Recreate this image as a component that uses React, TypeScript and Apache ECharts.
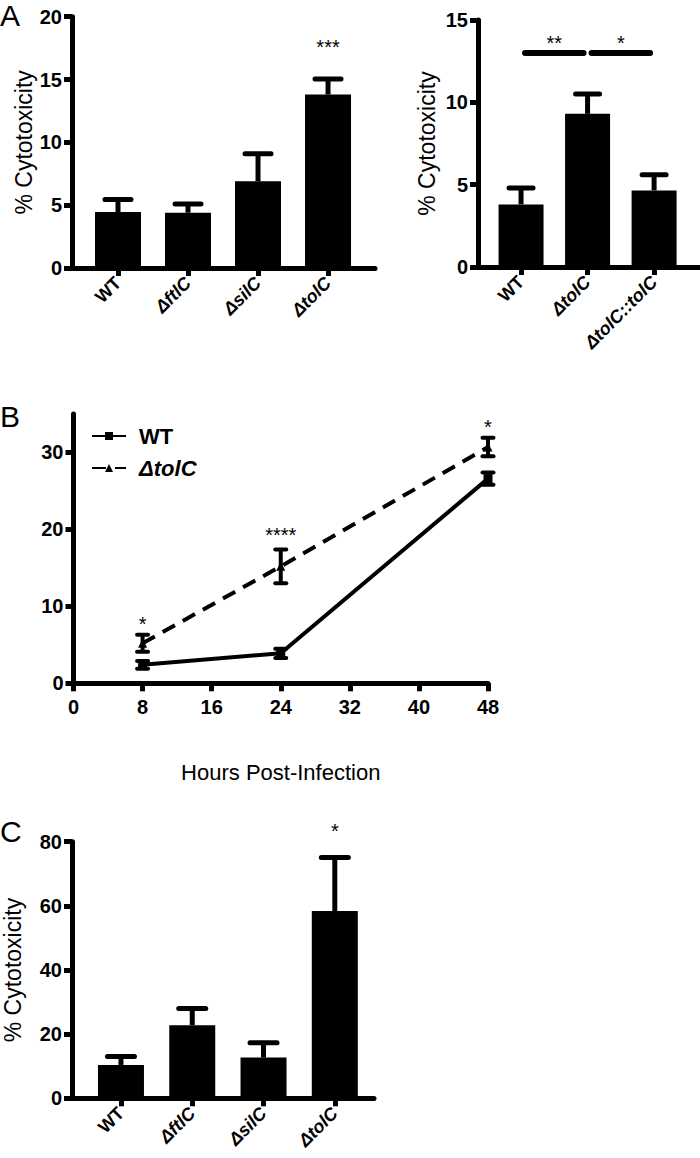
import React, { useEffect, useRef } from "react";
import * as echarts from "echarts";

// ---------- data ----------
const strainsA1 = ["WT", "ΔftlC", "ΔsilC", "ΔtolC"];
const meanA1 = [4.45, 4.4, 6.9, 13.8];
const semA1 = [1.0, 0.7, 2.2, 1.25];
const starsA1 = [{ x: 3, y: 18.0, t: "***" }];

const strainsA2 = ["WT", "ΔtolC", "ΔtolC::tolC"];
const meanA2 = [3.8, 9.3, 4.65];
const semA2 = [1.0, 1.2, 0.95];
const sigA2 = [
  { from: 0, to: 1, y: 13.0, t: "**", ty: 13.9 },
  { from: 1, to: 2, y: 13.0, t: "*", ty: 13.9 },
];

const hoursB = [8, 24, 48];
const wtB = [2.4, 3.9, 26.6];
const wtErrB = [0.5, 0.6, 0.8];
const tolcB = [5.2, 15.2, 30.7];
const tolcErrB = [1.1, 2.2, 1.2];
const starsB = [
  { x: 8, y: 8.35, t: "*" },
  { x: 24, y: 19.9, t: "****" },
  { x: 48, y: 33.9, t: "*" },
];
const ticksBY = [0, 10, 20, 30];

const strainsC = ["WT", "ΔftlC", "ΔsilC", "ΔtolC"];
const meanC = [10.4, 22.8, 12.7, 58.4];
const semC = [2.6, 5.2, 4.6, 16.7];
const starsC = [{ x: 3, y: 84.8, t: "*" }];

// ---------- styles ----------
const FONT = "'Liberation Sans', Arial, sans-serif";
const BOLD = "'Liberation Sans', Arial, sans-serif";
const AX = { color: "#000", width: 5 };

function barXAxis(gridIndex: number, min: number, max: number, names: string[]) {
  const vals = names.map((_, i) => i);
  return {
    type: "value",
    gridIndex,
    min,
    max,
    axisLine: { show: true, onZero: false, lineStyle: AX },
    axisTick: { show: true, customValues: vals, length: 8, lineStyle: AX },
    axisLabel: {
      show: true,
      customValues: vals,
      rotate: 45,
      margin: 12,
      formatter: (v: number) => {
        const n = names[Math.round(v)];
        return n === "WT" ? `{u|${n}}` : `{i|${n}}`;
      },
      rich: {
        u: { fontFamily: BOLD, fontWeight: "bold", fontSize: 18, color: "#000" },
        i: { fontFamily: BOLD, fontWeight: "bold", fontStyle: "italic", fontSize: 18, color: "#000" },
      },
    },
    splitLine: { show: false },
  };
}

function yAxis(gridIndex: number, max: number, interval: number, name: string, nameGap: number, custom?: number[]) {
  return {
    type: "value",
    gridIndex,
    min: 0,
    max,
    interval,
    name,
    nameLocation: "middle",
    nameGap,
    nameRotate: 90,
    nameTextStyle: { fontFamily: FONT, fontSize: 23, color: "#000" },
    axisLine: { show: true, onZero: false, lineStyle: AX },
    axisTick: { show: true, length: 8, lineStyle: AX, ...(custom ? { customValues: custom } : {}) },
    axisLabel: {
      margin: 10,
      fontFamily: BOLD,
      fontWeight: "bold",
      fontSize: 20,
      color: "#000",
      ...(custom ? { customValues: custom } : {}),
    },
    splitLine: { show: false },
  };
}

function errSeries(idx: number, xs: number[], means: number[], errs: number[], capW: number, lw: number, two: boolean) {
  return {
    type: "custom",
    xAxisIndex: idx,
    yAxisIndex: idx,
    clip: false,
    z: 5,
    encode: { x: 0, y: 1 },
    data: xs.map((x, i) => [x, means[i], errs[i]]),
    renderItem: (params: any, api: any) => {
      const x = api.value(0);
      const m = api.value(1);
      const e = api.value(2);
      const top = api.coord([x, m + e]);
      const bot = api.coord([x, two ? m - e : m]);
      const st = { stroke: "#000", lineWidth: lw, lineCap: "round" };
      const children: any[] = [
        { type: "line", shape: { x1: top[0], y1: top[1], x2: bot[0], y2: bot[1] }, style: { stroke: "#000", lineWidth: lw } },
        { type: "line", shape: { x1: top[0] - capW / 2, y1: top[1], x2: top[0] + capW / 2, y2: top[1] }, style: st },
      ];
      if (two) {
        children.push({ type: "line", shape: { x1: bot[0] - capW / 2, y1: bot[1], x2: bot[0] + capW / 2, y2: bot[1] }, style: st });
      }
      return { type: "group", children };
    },
  };
}

function starSeries(idx: number, stars: { x: number; y: number; t: string }[]) {
  return {
    type: "custom",
    xAxisIndex: idx,
    yAxisIndex: idx,
    clip: false,
    z: 6,
    encode: { x: 0, y: 1 },
    data: stars.map((s) => [s.x, s.y, s.t]),
    renderItem: (params: any, api: any) => {
      const p = api.coord([api.value(0), api.value(1)]);
      const t = stars[params.dataIndex].t;
      return {
        type: "text",
        style: { text: t, x: p[0], y: p[1] + 5, align: "center", verticalAlign: "middle", font: `20px ${FONT}`, fill: "#000" },
      };
    },
  };
}

function barSeries(idx: number, means: number[], width: number) {
  return {
    type: "bar",
    xAxisIndex: idx,
    yAxisIndex: idx,
    barWidth: width,
    itemStyle: { color: "#000" },
    data: means.map((m, i) => [i, m]),
  };
}

export default function App() {
  const ref = useRef<HTMLDivElement>(null);
  useEffect(() => {
    document.body.style.margin = "0";
    if (!ref.current) return;
    const chart = echarts.init(ref.current, undefined, { renderer: "svg" });
    const option: any = {
      animation: false,
      backgroundColor: "#fff",
      textStyle: { fontFamily: FONT },
      grid: [
        { left: 72, top: 16.7, width: 303, height: 251.3 },
        { left: 478, top: 20, width: 222, height: 247 },
        { left: 73.5, top: 414, width: 414.5, height: 269.3 },
        { left: 72, top: 841.7, width: 302, height: 256.6 },
      ],
      xAxis: [
        barXAxis(0, -0.657, 3.671, strainsA1),
        barXAxis(1, -0.647, 2.69, strainsA2),
        {
          type: "value",
          gridIndex: 2,
          min: 0,
          max: 48,
          interval: 8,
          name: "Hours Post-Infection",
          nameLocation: "middle",
          nameGap: 78,
          nameTextStyle: { fontFamily: FONT, fontSize: 22, color: "#000" },
          axisLine: { show: true, onZero: false, lineStyle: AX },
          axisTick: { show: true, length: 8, lineStyle: AX },
          axisLabel: { margin: 14, fontFamily: BOLD, fontWeight: "bold", fontSize: 20, color: "#000" },
          splitLine: { show: false },
        },
        barXAxis(3, -0.687, 3.55, strainsC),
      ],
      yAxis: [
        yAxis(0, 20, 5, "% Cytotoxicity", 36),
        yAxis(1, 15, 5, "% Cytotoxicity", 40),
        yAxis(2, 35, 10, "", 30, ticksBY),
        yAxis(3, 80, 20, "% Cytotoxicity", 48),
      ],
      legend: {
        left: 86,
        top: 420,
        orient: "vertical",
        itemWidth: 34,
        itemHeight: 10,
        itemGap: 10,
        data: ["WT", "ΔtolC"],
        formatter: (n: string) => (n === "WT" ? `{u|${n}}` : `{i|${n}}`),
        textStyle: {
          rich: {
            u: { fontFamily: BOLD, fontWeight: "bold", fontSize: 22, color: "#000", padding: [0, 0, 0, 8] },
            i: { fontFamily: BOLD, fontWeight: "bold", fontStyle: "italic", fontSize: 22, color: "#000", padding: [0, 0, 0, 8] },
          },
        },
      },
      graphic: [
        { type: "text", style: { text: "A", x: 0, y: 15, font: `30px ${FONT}`, fill: "#000", verticalAlign: "middle" } },
        { type: "text", style: { text: "B", x: 0, y: 416, font: `30px ${FONT}`, fill: "#000", verticalAlign: "middle" } },
        { type: "text", style: { text: "C", x: 0, y: 831, font: `30px ${FONT}`, fill: "#000", verticalAlign: "middle" } },
      ],
      series: [
        barSeries(0, meanA1, 46),
        errSeries(0, meanA1.map((_, i) => i), meanA1, semA1, 26, 5, false),
        starSeries(0, starsA1),

        barSeries(1, meanA2, 45),
        errSeries(1, meanA2.map((_, i) => i), meanA2, semA2, 24, 5, false),
        {
          type: "custom",
          xAxisIndex: 1,
          yAxisIndex: 1,
          clip: false,
          z: 6,
          encode: { x: [0, 1], y: 2 },
          data: sigA2.map((s) => [s.from, s.to, s.y, s.ty]),
          renderItem: (params: any, api: any) => {
            const a = api.coord([api.value(0), api.value(2)]);
            const b = api.coord([api.value(1), api.value(2)]);
            const t = api.coord([(api.value(0) + api.value(1)) / 2, api.value(3)]);
            return {
              type: "group",
              children: [
                { type: "line", shape: { x1: a[0] + 4, y1: a[1], x2: b[0] - 4, y2: b[1] }, style: { stroke: "#000", lineWidth: 6, lineCap: "round" } },
                { type: "text", style: { text: sigA2[params.dataIndex].t, x: t[0], y: t[1] + 5, align: "center", verticalAlign: "middle", font: `20px ${FONT}`, fill: "#000" } },
              ],
            };
          },
        },

        {
          name: "WT",
          type: "line",
          xAxisIndex: 2,
          yAxisIndex: 2,
          symbol: "rect",
          symbolSize: 9,
          itemStyle: { color: "#000" },
          lineStyle: { color: "#000", width: 4 },
          data: hoursB.map((h, i) => [h, wtB[i]]),
        },
        {
          name: "ΔtolC",
          type: "line",
          xAxisIndex: 2,
          yAxisIndex: 2,
          symbol: "triangle",
          symbolSize: 9,
          itemStyle: { color: "#000" },
          lineStyle: { color: "#000", width: 4, type: [14, 9] },
          data: hoursB.map((h, i) => [h, tolcB[i]]),
        },
        errSeries(2, hoursB, wtB, wtErrB, 11, 4, true),
        errSeries(2, hoursB, tolcB, tolcErrB, 11, 4, true),
        starSeries(2, starsB),

        barSeries(3, meanC, 46),
        errSeries(3, meanC.map((_, i) => i), meanC, semC, 27, 5, false),
        starSeries(3, starsC),
      ],
    };
    chart.setOption(option);
    return () => chart.dispose();
  }, []);
  return <div ref={ref} style={{ width: 700, height: 1158 }} />;
}
